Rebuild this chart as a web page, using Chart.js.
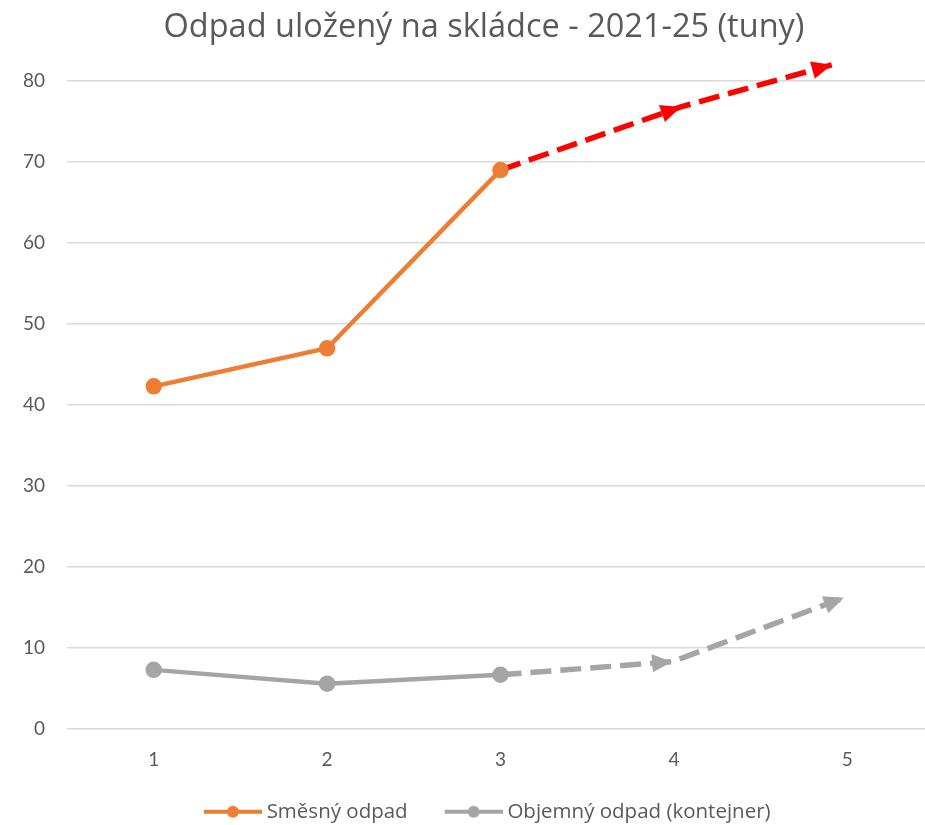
<!DOCTYPE html>
<html>
<head>
<meta charset="utf-8">
<script src="https://cdn.jsdelivr.net/npm/chart.js@4"></script>
<style>
  html, body { margin: 0; padding: 0; background: #fff; overflow: hidden; }
  #wrap { width: 925px; height: 825px; overflow: hidden; }
</style>
</head>
<body>
<div id="wrap"><canvas id="chart" width="968" height="832"></canvas></div>
<script>
const xTicks = ['1', '2', '3', '4', '5'];

// Směsný odpad: solid 1-3, dashed forecast after that (arrow tips)
const smesnyX = [1, 2, 3, 4.04, 4.91];
const smesny = [42.3, 47.0, 69.0, 76.8, 82.0];

// Objemný odpad (kontejner)
const objemnyX = [1, 2, 3, 3.99, 4.98];
const objemny = [7.3, 5.6, 6.7, 8.3, 16.2];

const yTicks = [0, 10, 20, 30, 40, 50, 60, 70, 80];

const textColor = '#595959';
const tickFont = 'Lato, "Open Sans", sans-serif';
const titleFont = '"Open Sans", Lato, sans-serif';

// legend swatch: line with a dot, drawn slightly past the box toward the text
function makeIcon(color) {
    const c = document.createElement('canvas');
    c.width = 70;
    c.height = 14;
    const g = c.getContext('2d');
    g.strokeStyle = color;
    g.lineWidth = 4;
    g.beginPath();
    g.moveTo(12, 7);
    g.lineTo(70, 7);
    g.stroke();
    g.fillStyle = color;
    g.beginPath();
    g.arc(41, 7, 6, 0, Math.PI * 2);
    g.fill();
    return c;
}
const icons = [makeIcon('#ED7D31'), makeIcon('#A5A5A5')];

function pts(xs, ys) {
    return xs.map((x, i) => ({ x: x, y: ys[i] }));
}

const dashAfter = 2;

// draws arrow heads at the end of each dashed segment
const arrowPlugin = {
    id: 'arrows',
    afterDatasetsDraw(chart) {
        const ctx = chart.ctx;
        chart.data.datasets.forEach((ds, di) => {
            const meta = chart.getDatasetMeta(di);
            for (let i = dashAfter + 1; i < meta.data.length; i++) {
                const p0 = meta.data[i - 1];
                const p1 = meta.data[i];
                const a = Math.atan2(p1.y - p0.y, p1.x - p0.x);
                const len = 20, half = 9;
                ctx.save();
                ctx.fillStyle = ds.dashColor;
                ctx.translate(p1.x, p1.y);
                ctx.rotate(a);
                ctx.beginPath();
                ctx.moveTo(0, 0);
                ctx.lineTo(-len, -half);
                ctx.lineTo(-len, half);
                ctx.closePath();
                ctx.fill();
                ctx.restore();
            }
        });
    }
};

const chartData = {
    datasets: [{
        label: 'Směsný odpad',
        data: pts(smesnyX, smesny),
        borderColor: '#ED7D31',
        backgroundColor: '#ED7D31',
        borderWidth: 4.5,
        pointRadius: [6, 6, 6, 0, 0],
        pointHoverRadius: 0,
        dashColor: '#FF0000',
        clip: false,
        segment: {
            borderColor: c => c.p0DataIndex >= dashAfter ? '#FF0000' : undefined,
            borderDash: c => c.p0DataIndex >= dashAfter ? [21, 9] : undefined,
            borderWidth: c => c.p0DataIndex >= dashAfter ? 5.5 : undefined
        }
    }, {
        label: 'Objemný odpad (kontejner)',
        data: pts(objemnyX, objemny),
        borderColor: '#A5A5A5',
        backgroundColor: '#A5A5A5',
        borderWidth: 4.5,
        pointRadius: [6, 6, 6, 0, 0],
        pointHoverRadius: 0,
        dashColor: '#A5A5A5',
        clip: false,
        segment: {
            borderDash: c => c.p0DataIndex >= dashAfter ? [21, 9] : undefined,
            borderWidth: c => c.p0DataIndex >= dashAfter ? 5.5 : undefined
        }
    }]
};

const config = {
    type: 'line',
    data: chartData,
    plugins: [arrowPlugin],
    options: {
        responsive: false,
        animation: false,
        layout: { padding: 0 },
        plugins: {
            title: {
                display: true,
                text: 'Odpad uložený na skládce - 2021-25 (tuny)',
                color: textColor,
                font: { family: titleFont, size: 32.5, weight: 'normal', lineHeight: 1.2 },
                padding: { top: 8, bottom: 34 }
            },
            legend: {
                position: 'bottom',
                labels: {
                    color: textColor,
                    font: { family: titleFont, size: 20.5 },
                    usePointStyle: true,
                    pointStyleWidth: 59,
                    padding: 30.5,
                    generateLabels(chart) {
                        const items = Chart.defaults.plugins.legend.labels.generateLabels(chart);
                        items.forEach((it, i) => { it.pointStyle = icons[i]; });
                        return items;
                    }
                }
            },
            tooltip: { enabled: false }
        },
        scales: {
            x: {
                type: 'linear',
                min: 0.5,
                max: 5.5,
                afterBuildTicks(scale) {
                    scale.ticks = xTicks.map(t => ({ value: Number(t) }));
                },
                afterFit(scale) { scale.height = 42; },
                ticks: {
                    color: textColor,
                    font: { family: tickFont, size: 19 },
                    padding: 19,
                    callback: v => xTicks[v - 1]
                },
                grid: { display: false, drawTicks: false },
                border: { display: false }
            },
            y: {
                min: 0,
                max: 80,
                afterBuildTicks(scale) {
                    scale.ticks = yTicks.map(v => ({ value: v }));
                },
                afterFit(scale) { scale.width = 67; },
                ticks: {
                    color: textColor,
                    font: { family: tickFont, size: 19 },
                    padding: 22
                },
                grid: { color: '#D9D9D9', lineWidth: 1.5, drawTicks: false },
                border: { display: false }
            },
            // empty right-hand spacer so the title and legend centre like the original
            spacer: {
                type: 'linear',
                position: 'right',
                ticks: { display: false },
                grid: { display: false, drawTicks: false },
                border: { display: false },
                afterFit(scale) { scale.width = 34; }
            }
        }
    }
};

var wasteChart = new Chart(document.getElementById('chart'), config);
</script>
</body>
</html>
